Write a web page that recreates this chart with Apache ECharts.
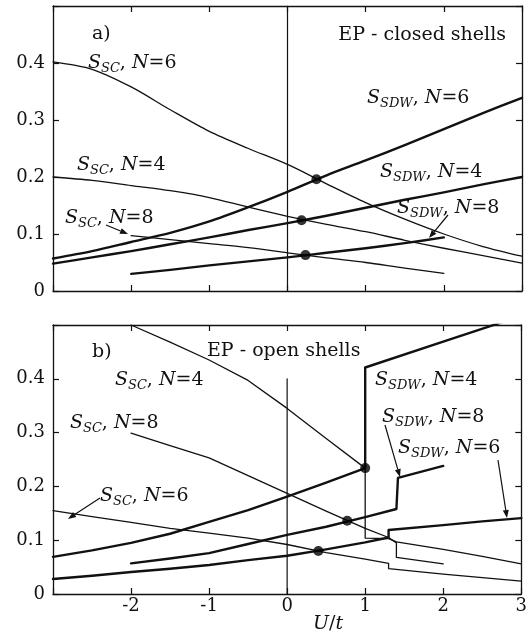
<!DOCTYPE html>
<html>
<head>
<meta charset="utf-8">
<script src="https://cdn.jsdelivr.net/npm/echarts@6/dist/echarts.min.js"></script>
<style>
  html, body { margin: 0; padding: 0; background: #fff; }
  #chart { width: 530px; height: 635px; }
</style>
</head>
<body>
<div id="chart"></div>
<script>
// U/t sampling grids
const uFull = [-3, -2.5, -2, -1.5, -1, -0.5, 0, 0.5, 1, 1.5, 2, 2.5, 3];
const uN8 = [-2, -1.5, -1, -0.5, 0, 0.5, 1, 1.5, 2];

// a) EP - closed shells
const closedScN6 = [0.402, 0.389, 0.358, 0.318, 0.280, 0.250, 0.222, 0.188, 0.155, 0.126, 0.100, 0.078, 0.061];
const closedScN4 = [0.200, 0.194, 0.185, 0.176, 0.164, 0.147, 0.131, 0.117, 0.104, 0.089, 0.075, 0.062, 0.049];
const closedSdwN6 = [0.057, 0.070, 0.086, 0.102, 0.122, 0.147, 0.174, 0.203, 0.229, 0.256, 0.284, 0.312, 0.339];
const closedSdwN4 = [0.048, 0.059, 0.070, 0.082, 0.094, 0.107, 0.119, 0.132, 0.146, 0.160, 0.173, 0.187, 0.200];
const closedScN8 = [0.097, 0.090, 0.083, 0.076, 0.067, 0.058, 0.050, 0.040, 0.031];
const closedSdwN8 = [0.030, 0.037, 0.045, 0.052, 0.059, 0.067, 0.075, 0.084, 0.094];
const closedCrossU = [0.37, 0.18, 0.23];
const closedCrossS = [0.196, 0.124, 0.063];

// b) EP - open shells
const openScN4U = [-2, -1.5, -1, -0.5, 0, 0.5, 1, 1, 1.3, 1.4, 2, 2.5, 3];
const openScN4 = [0.500, 0.468, 0.435, 0.397, 0.345, 0.289, 0.234, 0.104, 0.103, 0.097, 0.083, 0.070, 0.056];
const openSdwN4U = [-3, -2.5, -2, -1.5, -1, -0.5, 0, 0.5, 1, 1, 2, 3];
const openSdwN4 = [0.069, 0.081, 0.095, 0.112, 0.134, 0.156, 0.181, 0.207, 0.234, 0.421, 0.469, 0.517];
const openScN8U = [-2, -1.5, -1, -0.5, 0, 0.5, 1, 1.3, 1.4, 1.4, 2];
const openScN8 = [0.299, 0.276, 0.253, 0.220, 0.187, 0.154, 0.122, 0.105, 0.095, 0.068, 0.056];
const openSdwN8U = [-2, -1.5, -1, -0.5, 0, 0.5, 1, 1.4, 1.42, 2];
const openSdwN8 = [0.057, 0.066, 0.076, 0.093, 0.110, 0.125, 0.143, 0.158, 0.216, 0.238];
const openScN6U = [-3, -2.5, -2, -1.5, -1, -0.5, 0, 0.5, 1, 1.3, 1.3, 2, 3];
const openScN6 = [0.155, 0.144, 0.133, 0.122, 0.113, 0.104, 0.092, 0.077, 0.065, 0.057, 0.047, 0.037, 0.024];
const openSdwN6U = [-3, -2.5, -2, -1.5, -1, -0.5, 0, 0.5, 1, 1.3, 1.3, 2, 2.5, 3];
const openSdwN6 = [0.028, 0.034, 0.041, 0.047, 0.054, 0.063, 0.071, 0.083, 0.096, 0.105, 0.119, 0.128, 0.135, 0.141];
const openCrossU = [1.0, 0.77, 0.40];
const openCrossS = [0.234, 0.136, 0.080];

// U = 0 reference lines
const zeroU = [0, 0];
const closedZeroS = [0, 0.5];
const openZeroS = [0, 0.40];

// axis ticks
const uTicks = [-3, -2, -1, 0, 1, 2, 3];
const sTicks = [0, 0.1, 0.2, 0.3, 0.4, 0.5];

const INK = '#111';
const SERIF = "'DejaVu Serif', serif";
const THIN = 1.3, THICK = 2.4;

const zip = (xs, ys) => xs.map((x, i) => [x, ys[i]]);

function lineSeries(panel, xs, ys, width, smooth) {
  return {
    type: 'line', xAxisIndex: panel * 2, yAxisIndex: panel * 2,
    data: zip(xs, ys), symbol: 'none', smooth: smooth || false, clip: true,
    lineStyle: { color: INK, width: width, cap: 'round', join: 'round' },
    silent: true, z: 3
  };
}
function dotSeries(panel, xs, ys) {
  return {
    type: 'scatter', xAxisIndex: panel * 2, yAxisIndex: panel * 2,
    data: zip(xs, ys), symbol: 'circle', symbolSize: 10,
    itemStyle: { color: '#000' }, silent: true, z: 5
  };
}

function xAxes(grid, showLabels) {
  const base = {
    gridIndex: grid, type: 'value', min: uTicks[0], max: uTicks[uTicks.length - 1], interval: 1,
    axisLine: { show: true, onZero: false, lineStyle: { color: INK, width: 1.3 } },
    axisTick: { show: true, inside: true, length: 6, lineStyle: { color: INK, width: 1.2 } },
    splitLine: { show: false }
  };
  return [
    Object.assign({}, base, {
      position: 'bottom',
      axisLabel: {
        show: showLabels, margin: 3, color: INK, fontFamily: SERIF, fontSize: 18,
        formatter: v => (v === uTicks[0] ? '' : String(v))
      }
    }),
    Object.assign({}, base, { position: 'top', axisLabel: { show: false } })
  ];
}
function yAxes(grid) {
  const base = {
    gridIndex: grid, type: 'value', min: sTicks[0], max: sTicks[sTicks.length - 1], interval: 0.1,
    axisLine: { show: true, onZero: false, lineStyle: { color: INK, width: 1.3 } },
    axisTick: { show: true, inside: true, length: 6, lineStyle: { color: INK, width: 1.2 } },
    splitLine: { show: false }
  };
  return [
    Object.assign({}, base, {
      position: 'left',
      axisLabel: {
        show: true, margin: 8, color: INK, fontFamily: SERIF, fontSize: 18,
        formatter: v => (v > 0.45 ? '' : (v === 0 ? '0' : v.toFixed(1)))
      }
    }),
    Object.assign({}, base, { position: 'right', axisLabel: { show: false } })
  ];
}

// rich text styles for S_{..}, N=.. annotations
const rich = {
  s: { fontFamily: SERIF, fontStyle: 'italic', fontSize: 19, lineHeight: 24, fill: INK, verticalAlign: 'middle' },
  sub: { fontFamily: SERIF, fontStyle: 'italic', fontSize: 13, lineHeight: 13, fill: INK, verticalAlign: 'bottom' },
  r: { fontFamily: SERIF, fontSize: 19, lineHeight: 24, fill: INK, verticalAlign: 'middle' },
  i: { fontFamily: SERIF, fontStyle: 'italic', fontSize: 19, lineHeight: 24, fill: INK, verticalAlign: 'middle' }
};
function label(x, y, sub, n) {
  return {
    type: 'text', x: x, y: y, silent: true, z: 10,
    style: {
      text: '{s|S}{sub|' + sub + '}{r|, }{i|N}{r|=' + n + '}',
      rich: rich, align: 'left', verticalAlign: 'middle'
    }
  };
}
function plainText(x, y, text, align) {
  return {
    type: 'text', x: x, y: y, silent: true, z: 10,
    style: { text: text, fill: INK, font: '19px ' + SERIF, align: align || 'left', verticalAlign: 'middle' }
  };
}
function arrow(x1, y1, x2, y2) {
  const a = Math.atan2(y2 - y1, x2 - x1), L = 8, W = 3;
  const bx = x2 - L * Math.cos(a), by = y2 - L * Math.sin(a);
  return [
    { type: 'line', silent: true, z: 10, shape: { x1: x1, y1: y1, x2: bx, y2: by }, style: { stroke: INK, lineWidth: 1.2 } },
    { type: 'polygon', silent: true, z: 10,
      shape: { points: [[x2, y2], [bx + W * Math.sin(a), by - W * Math.cos(a)], [bx - W * Math.sin(a), by + W * Math.cos(a)]] },
      style: { fill: INK } }
  ];
}

const graphic = [
  plainText(92, 34, 'a)'),
  plainText(506, 35, 'EP - closed shells', 'right'),
  label(88, 63, 'SC', 6),
  label(77, 165, 'SC', 4),
  label(65, 218, 'SC', 8),
  label(367, 98, 'SDW', 6),
  label(380, 172, 'SDW', 4),
  label(397, 208, 'SDW', 8),
  ...arrow(106, 225, 128, 234),
  ...arrow(448, 215, 429, 238),

  plainText(92, 352, 'b)'),
  plainText(207, 351, 'EP - open shells'),
  label(115, 380, 'SC', 4),
  label(70, 423, 'SC', 8),
  label(100, 496, 'SC', 6),
  label(375, 380, 'SDW', 4),
  label(382, 417, 'SDW', 8),
  label(398, 448, 'SDW', 6),
  ...arrow(100, 498, 68, 519),
  ...arrow(385, 425, 400, 477),
  ...arrow(498, 460, 507, 518),

  {
    type: 'text', x: 328, y: 624, silent: true, z: 10,
    style: {
      text: '{i|U}{r|/}{i|t}', rich: rich, align: 'center', verticalAlign: 'middle'
    }
  }
];

const chart = echarts.init(document.getElementById('chart'), null, { renderer: 'canvas' });
chart.setOption({
  animation: false,
  backgroundColor: '#fff',
  grid: [
    { left: 53, top: 6, width: 469, height: 285 },
    { left: 53, top: 325, width: 469, height: 269 }
  ],
  xAxis: [...xAxes(0, false), ...xAxes(1, true)],
  yAxis: [...yAxes(0), ...yAxes(1)],
  series: [
    lineSeries(0, zeroU, closedZeroS, 1.2),
    lineSeries(0, uFull, closedScN6, THIN, 0.3),
    lineSeries(0, uFull, closedScN4, THIN, 0.3),
    lineSeries(0, uN8, closedScN8, THIN, 0.3),
    lineSeries(0, uFull, closedSdwN6, THICK, 0.3),
    lineSeries(0, uFull, closedSdwN4, THICK, 0.3),
    lineSeries(0, uN8, closedSdwN8, THICK, 0.3),
    dotSeries(0, closedCrossU, closedCrossS),

    lineSeries(1, zeroU, openZeroS, 1.2),
    lineSeries(1, openScN4U, openScN4, THIN),
    lineSeries(1, openScN8U, openScN8, THIN),
    lineSeries(1, openScN6U, openScN6, THIN),
    lineSeries(1, openSdwN4U, openSdwN4, THICK),
    lineSeries(1, openSdwN8U, openSdwN8, THICK),
    lineSeries(1, openSdwN6U, openSdwN6, THICK),
    dotSeries(1, openCrossU, openCrossS)
  ],
  graphic: graphic
});
</script>
</body>
</html>
